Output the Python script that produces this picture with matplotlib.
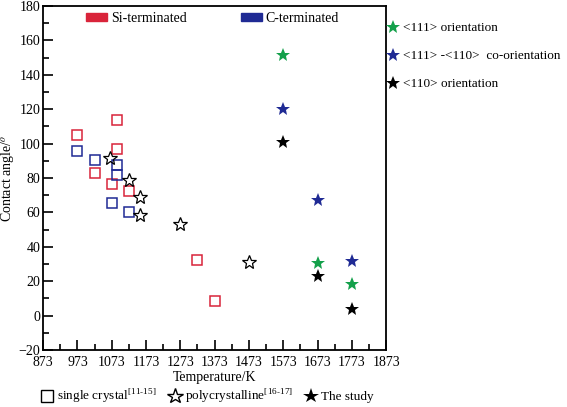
import numpy as np
import matplotlib
matplotlib.use("Agg")
import matplotlib.pyplot as plt
from matplotlib.lines import Line2D
from matplotlib.patches import Patch

plt.rcParams["font.family"] = ["Liberation Serif", "DejaVu Serif"]
plt.rcParams["mathtext.fontset"] = "stix"

RED = "#d9243a"
BLUE = "#1f2a94"
GREEN = "#13a04a"

# single crystal (hollow squares)
si_T = [973, 1023, 1088, 1088, 1073, 1122, 1323, 1373]
si_A = [105, 83, 114, 97, 76.5, 72.5, 32.5, 8.5]
c_T = [973, 1023, 1088, 1088, 1073, 1122]
c_A = [95.5, 90.5, 87.5, 81.5, 65.3, 60]

# polycrystalline (hollow stars)
poly_T = [1068, 1122, 1156, 1156, 1273, 1473]
poly_A = [91.5, 79, 69, 58.5, 53, 31]

# the study (filled stars)
study_T = [1573, 1673, 1773]
o111 = [151.5, 30.5, 18.5]
o111_110 = [120, 67.5, 32]
o110 = [100.8, 22.8, 4]

FS = 10

fig = plt.figure(figsize=(5.67, 4.07), dpi=100)
ax = fig.add_axes([0.076, 0.14, 0.605, 0.845])

sq = dict(marker="s", ms=6.5, mfc="none", mew=1.1, ls="none")
ax.plot(si_T, si_A, mec=RED, **sq)
ax.plot(c_T, c_A, mec=BLUE, **sq)
ax.plot(poly_T, poly_A, marker="*", ms=10, mfc="none", mec="black",
        mew=0.9, ls="none")

st = dict(marker="*", ms=10.5, mew=0, ls="none")
ax.plot(study_T, o111, color=GREEN, **st)
ax.plot(study_T, o111_110, color=BLUE, **st)
ax.plot(study_T, o110, color="black", **st)

ax.set_xlim(873, 1873)
ax.set_ylim(-20, 180)
ax.set_xticks(np.arange(873, 1874, 100))
ax.set_xticks(np.arange(923, 1873, 100), minor=True)
ax.set_yticks(np.arange(-20, 181, 20))
ax.set_yticks(np.arange(-10, 180, 20), minor=True)
ax.tick_params(which="both", direction="in", labelsize=FS, width=1.2)
ax.tick_params(which="major", length=7)
ax.tick_params(which="minor", length=4)
ax.tick_params(axis="x", pad=4)
ax.tick_params(axis="y", pad=2)
for s in ax.spines.values():
    s.set_linewidth(1.3)
ax.set_xlabel("Temperature/K", fontsize=FS, labelpad=2)
ax.set_ylabel("Contact angle/$^o$", fontsize=FS, labelpad=2)

top = [Patch(facecolor=RED, edgecolor=RED), Patch(facecolor=BLUE, edgecolor=BLUE)]
ax.legend(top, ["Si-terminated", "C-terminated"], ncol=2, frameon=False,
          loc="upper left", bbox_to_anchor=(0.09, 1.02), fontsize=FS,
          handlelength=1.5, handleheight=0.5, handletextpad=0.25,
          columnspacing=3.9)

right = [Line2D([], [], color=c, marker="*", ms=10.5, ls="none", mew=0)
         for c in (GREEN, BLUE, "black")]
fig.legend(right, ["<111> orientation", "<111> -<110>  co-orientation",
                   "<110> orientation"],
           loc="upper left", bbox_to_anchor=(0.66, 0.975), frameon=False,
           fontsize=9.5, handlelength=1.0, handletextpad=0.3,
           labelspacing=1.2)

bottom = [Line2D([], [], marker="s", ms=8, mfc="none", mec="black", mew=1, ls="none"),
          Line2D([], [], marker="*", ms=11.5, mfc="none", mec="black", mew=1, ls="none"),
          Line2D([], [], marker="*", ms=11.5, color="black", mew=0, ls="none")]
fig.legend(bottom, ["single crystal$^{\\mathregular{[11\\text{-}15]}}$",
                    "polycrystalline$^{\\mathregular{[16\\text{-}17]}}$", "The study"],
           loc="lower left", bbox_to_anchor=(0.05, -0.025), ncol=3,
           frameon=False, fontsize=9.5, handlelength=1.0,
           handletextpad=0.25, columnspacing=0.9)

fig.savefig("out.png", dpi=100)
